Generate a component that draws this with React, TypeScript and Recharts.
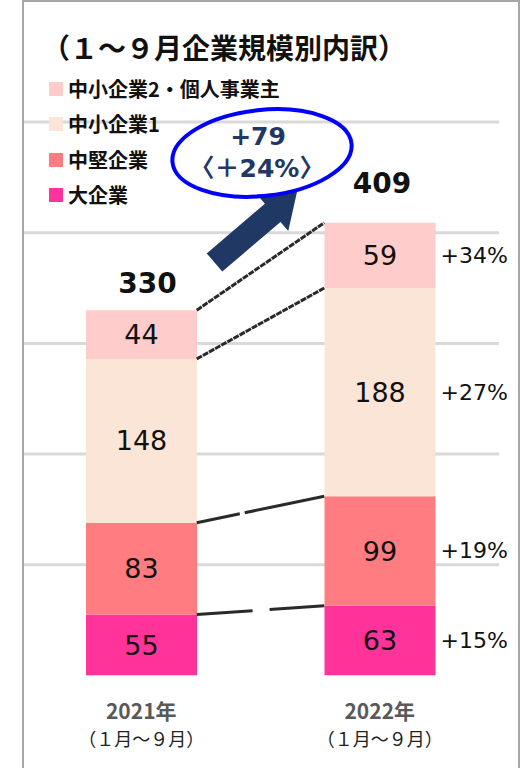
import React from 'react';
import {
  ComposedChart,
  Bar,
  XAxis,
  YAxis,
  CartesianGrid,
  LabelList,
  ReferenceLine,
  Legend,
} from 'recharts';

// ---------- data ----------
const years = ['2021年', '2022年'];
const periods = ['（１月～９月）', '（１月～９月）'];
const seriesKeys = ['large', 'midsize', 'sme1', 'sme2'];
const seriesNames = ['大企業', '中堅企業', '中小企業1', '中小企業2・個人事業主'];
const seriesColors = ['#FF3399', '#FF7C80', '#FBE5D6', '#FFCCCC'];
const largeValues = [55, 63];
const midsizeValues = [83, 99];
const sme1Values = [148, 188];
const sme2Values = [44, 59];
const totals = [330, 409];
const yTicks = [100, 200, 300, 400, 500];
const titleText = '（１～９月企業規模別内訳）';
const changeAbs = '+79';
const changePct = '〈＋24%〉';

const seriesValues = [largeValues, midsizeValues, sme1Values, sme2Values];

const data = years.map((year, i) => {
  const row: any = { x: i, year, period: periods[i], total: totals[i] };
  seriesKeys.forEach((k, s) => {
    row[k] = seriesValues[s][i];
  });
  return row;
});

const growth = seriesValues.map(
  (v) => `+${Math.round((v[1] / v[0] - 1) * 100)}%`
);

// ---------- layout ----------
const W = 522;
const H = 768;
const M = { top: 122, left: 22, right: 23, bottom: 0 };
const X_AXIS_H = 92.5;
const BAR_PX = 111;
const X_DOMAIN: [number, number] = [-0.5, 1.5];
const Y_DOMAIN: [number, number] = [0, 500];
const plotW = W - M.left - M.right;
const plotH = H - M.top - M.bottom - X_AXIS_H;
const halfBarUnits = BAR_PX / 2 / (plotW / (X_DOMAIN[1] - X_DOMAIN[0]));

const NUM_FONT = '"DejaVu Sans", Verdana, sans-serif';
const JP_FONT = '"Noto Sans CJK JP", sans-serif';

const cumulative = (i: number, upto: number) =>
  seriesValues.slice(0, upto + 1).reduce((a, v) => a + v[i], 0);

const connectorDash = ['56 17', '44 5 300', '6 1', '6 1'];

const XTick = (props: any) => {
  const { x, y, payload } = props;
  const i = payload.value as number;
  return (
    <g>
      <text
        x={x}
        y={y + 34}
        textAnchor="middle"
        dominantBaseline="central"
        fontFamily={JP_FONT}
        fontWeight="bold"
        fontSize={21}
        fill="#595959"
      >
        {years[i]}
      </text>
      <text
        x={x}
        y={y + 62}
        textAnchor="middle"
        dominantBaseline="central"
        fontFamily={JP_FONT}
        fontSize={18}
        fill="#222"
      >
        {periods[i]}
      </text>
    </g>
  );
};

const getBox = (p: any) => {
  const vb = p.viewBox && p.viewBox.width !== undefined ? p.viewBox : p;
  return { x: vb.x, y: vb.y, width: vb.width, height: vb.height };
};

const makeGrowthLabel = (s: number) => (p: any) => {
  if (p.index !== 1) return null;
  const { x, y, width, height } = getBox(p);
  return (
    <text
      x={x + width + 5}
      y={y + height / 2}
      dominantBaseline="central"
      fontFamily={NUM_FONT}
      fontSize={22}
      fill="#111"
    >
      {growth[s]}
    </text>
  );
};

const totalOffsets = [
  { dx: 6, dy: 27 },
  { dx: 2, dy: 39 },
];

const TotalLabel = (p: any) => {
  const { x, y, width } = getBox(p);
  const o = totalOffsets[p.index] || { dx: 0, dy: 30 };
  return (
    <text
      x={x + width / 2 + o.dx}
      y={y - o.dy}
      textAnchor="middle"
      dominantBaseline="central"
      fontFamily={NUM_FONT}
      fontWeight="bold"
      fontSize={28}
      fill="#111"
    >
      {p.value}
    </text>
  );
};

const LegendContent = () => (
  <div style={{ display: 'flex', flexDirection: 'column' }}>
    {seriesNames.map((_, j) => {
      const s = seriesNames.length - 1 - j;
      return (
        <div
          key={s}
          style={{ display: 'flex', alignItems: 'center', height: 35.5 }}
        >
          <div
            style={{
              width: 14,
              height: 14,
              background: seriesColors[s],
              marginRight: 5,
            }}
          />
          <span
            style={{
              fontFamily: JP_FONT,
              fontWeight: 'bold',
              fontSize: 20,
              color: '#111',
              whiteSpace: 'nowrap',
              lineHeight: 1,
            }}
          >
            {seriesNames[s]}
          </span>
        </div>
      );
    })}
  </div>
);

// arrow geometry (decoration)
const arrowPts = (() => {
  const T = [214.5, 262.5];
  const P = [297, 192];
  const dx = P[0] - T[0];
  const dy = P[1] - T[1];
  const L = Math.hypot(dx, dy);
  const u = [dx / L, dy / L];
  const n = [-u[1], u[0]];
  const hl = 32;
  const B = [P[0] - hl * u[0], P[1] - hl * u[1]];
  const sw = 12;
  const hw = 24;
  const pts = [
    [T[0] - sw * n[0], T[1] - sw * n[1]],
    [B[0] - sw * n[0], B[1] - sw * n[1]],
    [B[0] - hw * n[0], B[1] - hw * n[1]],
    P,
    [B[0] + hw * n[0], B[1] + hw * n[1]],
    [B[0] + sw * n[0], B[1] + sw * n[1]],
    [T[0] + sw * n[0], T[1] + sw * n[1]],
  ];
  return pts.map((p) => p.join(',')).join(' ');
})();

const gridGenerator = (props: any) => {
  const off = props?.offset;
  const top = off && typeof off.top === 'number' ? off.top : M.top;
  const h = off && typeof off.height === 'number' ? off.height : plotH;
  return yTicks.map(
    (t) => top + h * (1 - (t - Y_DOMAIN[0]) / (Y_DOMAIN[1] - Y_DOMAIN[0]))
  );
};

export default function App() {
  return (
    <div
      style={{
        position: 'absolute',
        left: 0,
        top: 0,
        width: W,
        height: H,
        background: '#fff',
        overflow: 'hidden',
      }}
    >
      <ComposedChart width={W} height={H} data={data} margin={M}>
        <CartesianGrid
          horizontal
          vertical={false}
          stroke="#D9D9D9"
          strokeWidth={3}
          horizontalCoordinatesGenerator={gridGenerator}
        />
        <XAxis
          type="number"
          dataKey="x"
          domain={X_DOMAIN}
          ticks={[0, 1]}
          allowDataOverflow
          axisLine={false}
          tickLine={false}
          tickSize={0}
          tickMargin={0}
          height={X_AXIS_H}
          tick={<XTick />}
          interval={0}
        />
        <YAxis
          type="number"
          domain={Y_DOMAIN}
          ticks={yTicks}
          hide
          width={0}
          allowDataOverflow
        />
        <Legend
          layout="vertical"
          align="center"
          verticalAlign="middle"
          content={<LegendContent />}
          wrapperStyle={{ left: 49, top: 71, width: 320, height: 142 }}
        />
        {seriesKeys.map((k, s) => (
          <Bar
            key={k}
            dataKey={k}
            name={seriesNames[s]}
            stackId="a"
            fill={seriesColors[s]}
            barSize={BAR_PX}
            isAnimationActive={false}
          >
            <LabelList
              dataKey={k}
              position="center"
              fontFamily={NUM_FONT}
              fontSize={27}
              fill="#111"
            />
            <LabelList dataKey={k} content={makeGrowthLabel(s)} />
            {s === seriesKeys.length - 1 && (
              <LabelList dataKey="total" content={<TotalLabel />} />
            )}
          </Bar>
        ))}
        {seriesKeys.map((k, s) => (
          <ReferenceLine
            key={`c-${k}`}
            ifOverflow="visible"
            segment={[
              { x: 0 + halfBarUnits, y: cumulative(0, s) },
              { x: 1 - halfBarUnits, y: cumulative(1, s) },
            ]}
            stroke="#2a2a2a"
            strokeWidth={3}
            strokeDasharray={connectorDash[s]}
          />
        ))}
      </ComposedChart>
      <svg
        width={W}
        height={H}
        style={{ position: 'absolute', left: 0, top: 0, pointerEvents: 'none' }}
      >
        <rect
          x={23}
          y={1}
          width={496}
          height={H + 10}
          fill="none"
          stroke="#A6A6A6"
          strokeWidth={2}
        />
        <text
          x={42}
          y={47}
          dominantBaseline="central"
          fontFamily={JP_FONT}
          fontWeight="bold"
          fontSize={28}
          fill="#111"
        >
          {titleText}
        </text>
        <polygon points={arrowPts} fill="#1F3864" />
        <ellipse
          cx={262}
          cy={153}
          rx={90}
          ry={43}
          transform="rotate(-6 262 153)"
          fill="none"
          stroke="#0000FF"
          strokeWidth={4}
        />
        <text
          x={258}
          y={136}
          textAnchor="middle"
          dominantBaseline="central"
          fontFamily={NUM_FONT}
          fontWeight="bold"
          fontSize={25}
          fill="#1F3864"
        >
          {changeAbs}
        </text>
        <text
          x={257}
          y={168}
          textAnchor="middle"
          dominantBaseline="central"
          fontFamily={`${NUM_FONT.split(',')[0]}, ${JP_FONT}`}
          fontWeight="bold"
          fontSize={25}
          fill="#1F3864"
        >
          {changePct}
        </text>
      </svg>
    </div>
  );
}
